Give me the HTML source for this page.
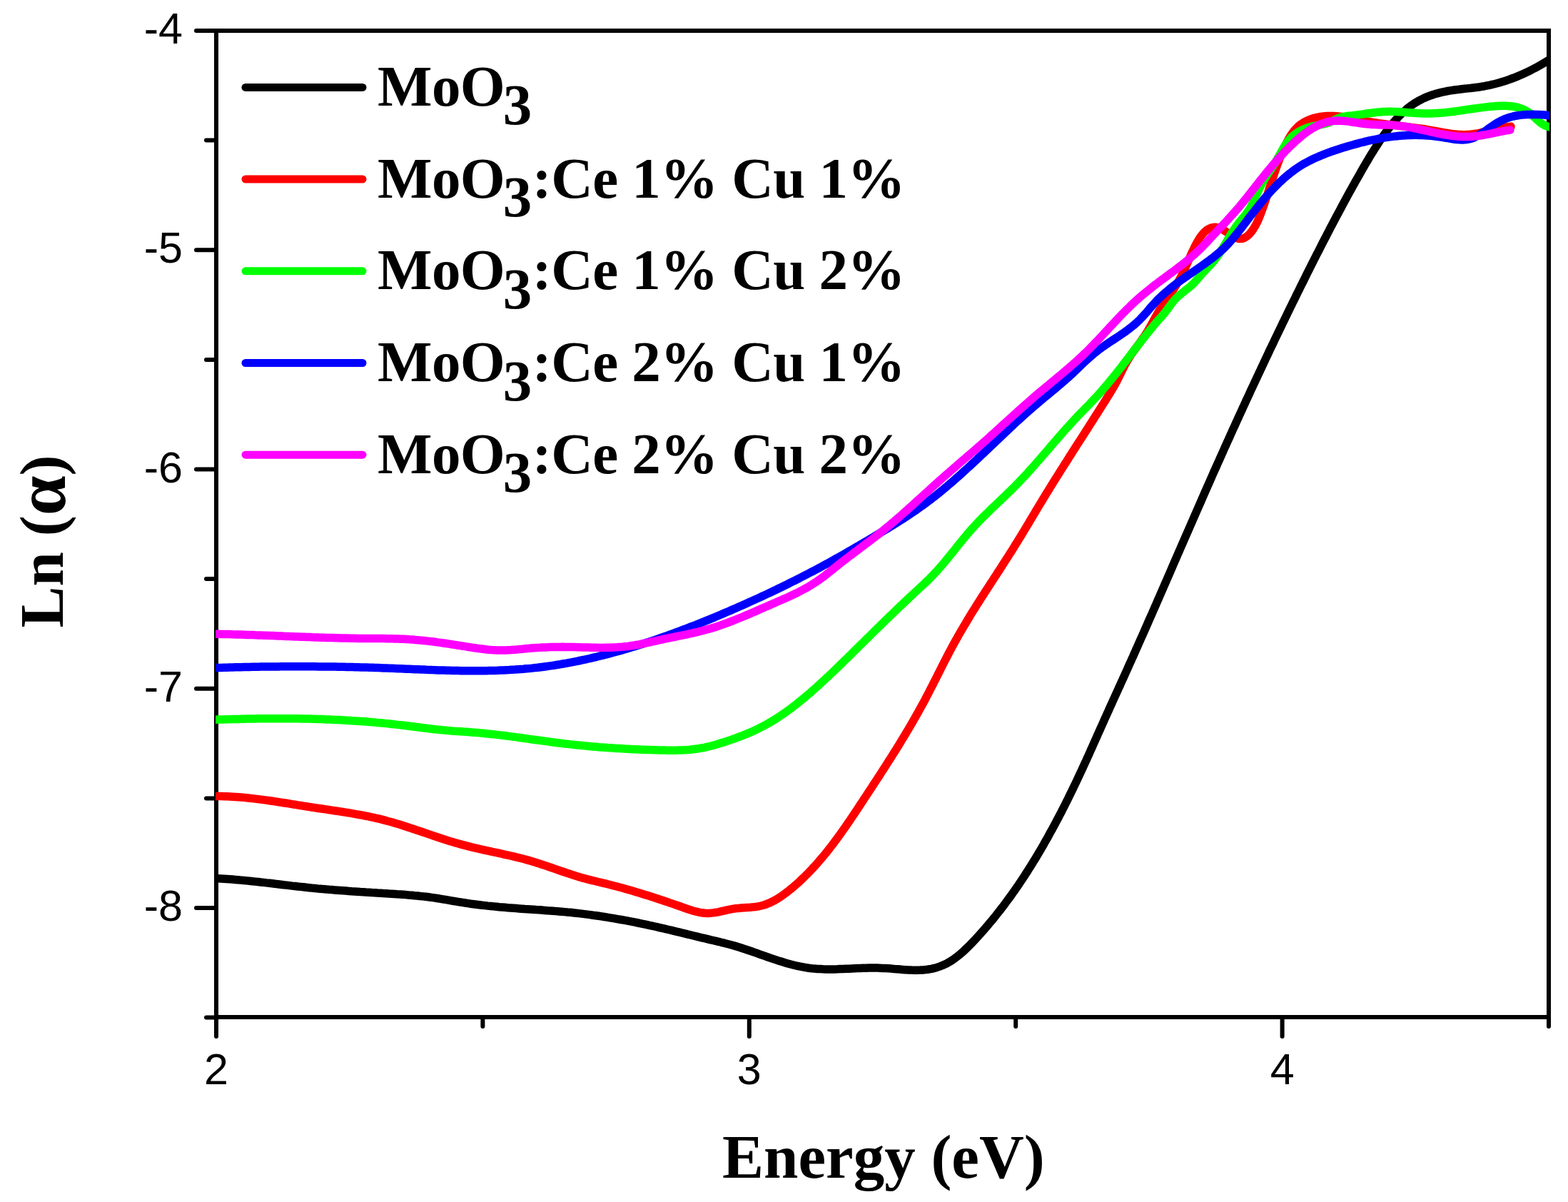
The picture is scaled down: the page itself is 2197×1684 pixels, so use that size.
<!DOCTYPE html>
<html><head><meta charset="utf-8"><title>Ln(alpha) vs Energy</title>
<style>html,body{margin:0;padding:0;background:#fff;overflow:hidden}svg{display:block}</style>
</head><body>
<svg width="2197" height="1684" viewBox="0 0 2197 1684">
<defs><clipPath id="pc"><rect x="302" y="40" width="1869" height="1390"/></clipPath></defs>
<rect width="2197" height="1684" fill="#fff"/>
<g stroke="#000" stroke-width="6" fill="none" stroke-linecap="square">
<rect x="303" y="43" width="1867.0" height="1382.0"/>
</g>
<path d="M275,43.0 H303 M275,350.2 H303 M275,657.5 H303 M275,964.8 H303 M275,1272.0 H303 M289,196.6 H303 M289,503.9 H303 M289,811.1 H303 M289,1118.4 H303 M289,1425.6 H303 M303.0,1425 V1452 M1049.8,1425 V1452 M1796.6,1425 V1452 M676.4,1425 V1438 M1423.2,1425 V1438 M2170.0,1425 V1438" stroke="#000" stroke-width="6" stroke-linecap="round" fill="none"/>
<g clip-path="url(#pc)" fill="none" stroke-width="11.5" stroke-linejoin="round" stroke-linecap="round">
<path d="M302.0,1230.6 L306.0,1230.8 L310.0,1231.0 L314.0,1231.2 L318.0,1231.5 L322.0,1231.8 L326.0,1232.1 L329.9,1232.4 L333.9,1232.7 L337.9,1233.1 L341.9,1233.5 L345.9,1233.9 L349.8,1234.3 L353.8,1234.7 L357.8,1235.1 L361.8,1235.5 L365.7,1236.0 L369.7,1236.4 L373.7,1236.9 L377.6,1237.3 L381.6,1237.8 L385.6,1238.3 L389.6,1238.7 L393.5,1239.2 L397.5,1239.7 L401.5,1240.1 L405.4,1240.6 L409.4,1241.1 L413.4,1241.5 L417.4,1242.0 L421.3,1242.4 L425.3,1242.8 L429.3,1243.3 L433.3,1243.7 L437.2,1244.1 L441.2,1244.5 L445.2,1244.9 L449.2,1245.2 L453.1,1245.6 L457.1,1245.9 L461.1,1246.3 L465.1,1246.6 L469.1,1246.9 L473.1,1247.2 L477.1,1247.5 L481.0,1247.8 L485.0,1248.1 L489.0,1248.4 L493.0,1248.7 L497.0,1248.9 L501.0,1249.2 L505.0,1249.5 L509.0,1249.7 L512.9,1250.0 L516.9,1250.2 L520.9,1250.5 L524.9,1250.7 L528.9,1251.0 L532.9,1251.2 L536.9,1251.5 L540.9,1251.7 L544.9,1252.0 L548.9,1252.2 L552.8,1252.5 L556.8,1252.8 L560.8,1253.0 L564.8,1253.3 L568.8,1253.6 L572.8,1254.0 L576.8,1254.3 L580.7,1254.7 L584.7,1255.0 L588.7,1255.5 L592.7,1255.9 L596.6,1256.3 L600.6,1256.8 L604.6,1257.4 L608.5,1257.9 L612.5,1258.5 L616.4,1259.1 L620.4,1259.8 L624.3,1260.4 L628.3,1261.1 L632.2,1261.8 L636.1,1262.5 L640.1,1263.1 L644.0,1263.8 L648.0,1264.4 L651.9,1265.0 L655.9,1265.6 L659.8,1266.2 L663.8,1266.7 L667.8,1267.2 L671.7,1267.7 L675.7,1268.2 L679.7,1268.6 L683.6,1269.1 L687.6,1269.5 L691.6,1269.9 L695.6,1270.3 L699.6,1270.7 L703.5,1271.0 L707.5,1271.3 L711.5,1271.7 L715.5,1272.0 L719.5,1272.3 L723.5,1272.6 L727.4,1272.9 L731.4,1273.2 L735.4,1273.5 L739.4,1273.7 L743.4,1274.0 L747.4,1274.3 L751.4,1274.6 L755.4,1274.8 L759.3,1275.1 L763.3,1275.4 L767.3,1275.7 L771.3,1275.9 L775.3,1276.2 L779.3,1276.6 L783.3,1276.9 L787.3,1277.2 L791.2,1277.6 L795.2,1278.0 L799.2,1278.3 L803.2,1278.8 L807.1,1279.2 L811.1,1279.6 L815.1,1280.1 L819.0,1280.6 L823.0,1281.1 L827.0,1281.6 L830.9,1282.2 L834.9,1282.7 L838.9,1283.3 L842.8,1283.9 L846.8,1284.5 L850.7,1285.1 L854.7,1285.8 L858.6,1286.4 L862.5,1287.1 L866.5,1287.8 L870.4,1288.5 L874.3,1289.2 L878.3,1289.9 L882.2,1290.7 L886.1,1291.4 L890.0,1292.2 L894.0,1293.0 L897.9,1293.8 L901.8,1294.6 L905.7,1295.4 L909.6,1296.3 L913.5,1297.1 L917.4,1298.0 L921.3,1298.9 L925.2,1299.8 L929.1,1300.7 L933.0,1301.6 L936.9,1302.5 L940.8,1303.4 L944.7,1304.4 L948.6,1305.3 L952.4,1306.2 L956.3,1307.2 L960.2,1308.1 L964.1,1309.1 L968.0,1310.0 L971.9,1311.0 L975.7,1311.9 L979.6,1312.9 L983.5,1313.8 L987.4,1314.7 L991.3,1315.6 L995.2,1316.6 L999.1,1317.5 L1003.0,1318.4 L1006.9,1319.3 L1010.7,1320.3 L1014.6,1321.2 L1018.5,1322.2 L1022.4,1323.2 L1026.2,1324.3 L1030.1,1325.4 L1033.9,1326.5 L1037.7,1327.7 L1041.5,1329.0 L1045.3,1330.2 L1049.1,1331.5 L1052.9,1332.8 L1056.6,1334.1 L1060.4,1335.4 L1064.2,1336.8 L1067.9,1338.1 L1071.7,1339.4 L1075.5,1340.8 L1079.3,1342.1 L1083.1,1343.4 L1086.8,1344.6 L1090.6,1345.9 L1094.5,1347.1 L1098.3,1348.3 L1102.1,1349.4 L1106.0,1350.5 L1109.8,1351.5 L1113.7,1352.5 L1117.6,1353.4 L1121.5,1354.2 L1125.4,1354.9 L1129.4,1355.6 L1133.3,1356.2 L1137.3,1356.7 L1141.3,1357.1 L1145.3,1357.4 L1149.2,1357.6 L1153.2,1357.8 L1157.2,1357.9 L1161.2,1357.9 L1165.2,1357.9 L1169.2,1357.9 L1173.2,1357.8 L1177.2,1357.6 L1181.2,1357.5 L1185.2,1357.3 L1189.2,1357.2 L1193.2,1357.0 L1197.2,1356.8 L1201.2,1356.6 L1205.2,1356.5 L1209.2,1356.3 L1213.2,1356.2 L1217.2,1356.1 L1221.2,1356.1 L1225.2,1356.1 L1229.2,1356.1 L1233.2,1356.2 L1237.1,1356.4 L1241.1,1356.6 L1245.1,1356.8 L1249.1,1357.1 L1253.1,1357.5 L1257.1,1357.8 L1261.1,1358.1 L1265.0,1358.4 L1269.0,1358.7 L1273.0,1358.9 L1277.0,1359.1 L1281.0,1359.2 L1285.0,1359.2 L1289.0,1359.1 L1293.0,1358.9 L1297.0,1358.6 L1300.9,1358.0 L1304.9,1357.3 L1308.8,1356.5 L1312.6,1355.4 L1316.4,1354.1 L1320.2,1352.7 L1323.8,1351.1 L1327.4,1349.3 L1330.9,1347.3 L1334.2,1345.2 L1337.5,1342.9 L1340.7,1340.5 L1343.9,1338.0 L1346.9,1335.4 L1349.9,1332.8 L1352.8,1330.0 L1355.7,1327.3 L1358.5,1324.4 L1361.3,1321.6 L1364.1,1318.7 L1366.8,1315.8 L1369.5,1312.8 L1372.2,1309.9 L1374.9,1306.9 L1377.5,1303.9 L1380.1,1300.9 L1382.8,1297.9 L1385.3,1294.8 L1387.9,1291.8 L1390.5,1288.7 L1393.0,1285.6 L1395.5,1282.5 L1398.0,1279.3 L1400.5,1276.2 L1402.9,1273.0 L1405.3,1269.9 L1407.8,1266.7 L1410.1,1263.5 L1412.5,1260.3 L1414.9,1257.0 L1417.2,1253.8 L1419.5,1250.5 L1421.8,1247.3 L1424.1,1244.0 L1426.4,1240.7 L1428.6,1237.4 L1430.8,1234.1 L1433.1,1230.7 L1435.3,1227.4 L1437.4,1224.0 L1439.6,1220.7 L1441.7,1217.3 L1443.9,1213.9 L1446.0,1210.5 L1448.1,1207.1 L1450.2,1203.7 L1452.2,1200.3 L1454.3,1196.9 L1456.3,1193.4 L1458.4,1190.0 L1460.4,1186.5 L1462.4,1183.1 L1464.3,1179.6 L1466.3,1176.1 L1468.3,1172.6 L1470.2,1169.1 L1472.1,1165.6 L1474.1,1162.1 L1476.0,1158.6 L1477.9,1155.1 L1479.7,1151.6 L1481.6,1148.0 L1483.5,1144.5 L1485.3,1140.9 L1487.2,1137.4 L1489.0,1133.8 L1490.8,1130.3 L1492.6,1126.7 L1494.4,1123.1 L1496.2,1119.6 L1497.9,1116.0 L1499.7,1112.4 L1501.5,1108.8 L1503.2,1105.2 L1504.9,1101.6 L1506.7,1098.0 L1508.4,1094.4 L1510.1,1090.8 L1511.8,1087.1 L1513.5,1083.5 L1515.2,1079.9 L1516.9,1076.3 L1518.5,1072.6 L1520.2,1069.0 L1521.9,1065.4 L1523.5,1061.7 L1525.2,1058.1 L1526.8,1054.5 L1528.4,1050.8 L1530.1,1047.2 L1531.7,1043.5 L1533.3,1039.9 L1535.0,1036.2 L1536.6,1032.6 L1538.2,1028.9 L1539.9,1025.3 L1541.5,1021.6 L1543.1,1018.0 L1544.8,1014.3 L1546.4,1010.7 L1548.0,1007.0 L1549.7,1003.4 L1551.3,999.7 L1553.0,996.1 L1554.6,992.4 L1556.2,988.8 L1557.9,985.2 L1559.5,981.5 L1561.2,977.9 L1562.9,974.2 L1564.5,970.6 L1566.2,967.0 L1567.8,963.3 L1569.5,959.7 L1571.1,956.0 L1572.8,952.4 L1574.4,948.8 L1576.1,945.1 L1577.7,941.5 L1579.4,937.8 L1581.0,934.2 L1582.6,930.5 L1584.3,926.9 L1585.9,923.2 L1587.6,919.6 L1589.2,915.9 L1590.8,912.3 L1592.4,908.6 L1594.1,905.0 L1595.7,901.3 L1597.3,897.7 L1598.9,894.0 L1600.6,890.4 L1602.2,886.7 L1603.8,883.1 L1605.4,879.4 L1607.0,875.8 L1608.6,872.1 L1610.2,868.4 L1611.8,864.8 L1613.5,861.1 L1615.1,857.5 L1616.7,853.8 L1618.3,850.1 L1619.9,846.5 L1621.5,842.8 L1623.1,839.1 L1624.7,835.5 L1626.3,831.8 L1627.9,828.2 L1629.5,824.5 L1631.1,820.8 L1632.7,817.2 L1634.3,813.5 L1635.9,809.8 L1637.5,806.2 L1639.1,802.5 L1640.7,798.8 L1642.2,795.2 L1643.8,791.5 L1645.4,787.8 L1647.0,784.2 L1648.6,780.5 L1650.2,776.8 L1651.8,773.2 L1653.4,769.5 L1655.0,765.8 L1656.6,762.2 L1658.2,758.5 L1659.8,754.8 L1661.4,751.2 L1663.0,747.5 L1664.6,743.9 L1666.2,740.2 L1667.8,736.5 L1669.4,732.9 L1671.0,729.2 L1672.6,725.5 L1674.2,721.9 L1675.8,718.2 L1677.4,714.5 L1679.0,710.9 L1680.6,707.2 L1682.2,703.6 L1683.8,699.9 L1685.4,696.2 L1687.0,692.6 L1688.6,688.9 L1690.2,685.3 L1691.8,681.6 L1693.5,678.0 L1695.1,674.3 L1696.7,670.6 L1698.3,667.0 L1699.9,663.3 L1701.5,659.7 L1703.2,656.0 L1704.8,652.4 L1706.4,648.7 L1708.1,645.1 L1709.7,641.4 L1711.3,637.8 L1713.0,634.1 L1714.6,630.5 L1716.2,626.8 L1717.9,623.2 L1719.5,619.5 L1721.2,615.9 L1722.8,612.3 L1724.4,608.6 L1726.1,605.0 L1727.7,601.3 L1729.4,597.7 L1731.1,594.0 L1732.7,590.4 L1734.4,586.8 L1736.0,583.1 L1737.7,579.5 L1739.4,575.9 L1741.0,572.2 L1742.7,568.6 L1744.4,565.0 L1746.0,561.3 L1747.7,557.7 L1749.4,554.1 L1751.1,550.5 L1752.7,546.8 L1754.4,543.2 L1756.1,539.6 L1757.8,536.0 L1759.5,532.3 L1761.2,528.7 L1762.9,525.1 L1764.6,521.5 L1766.3,517.8 L1768.0,514.2 L1769.7,510.6 L1771.4,507.0 L1773.1,503.4 L1774.8,499.8 L1776.5,496.2 L1778.2,492.5 L1779.9,488.9 L1781.7,485.3 L1783.4,481.7 L1785.1,478.1 L1786.8,474.5 L1788.6,470.9 L1790.3,467.3 L1792.0,463.7 L1793.8,460.1 L1795.5,456.5 L1797.2,452.9 L1799.0,449.3 L1800.7,445.7 L1802.5,442.1 L1804.2,438.5 L1806.0,434.9 L1807.7,431.3 L1809.5,427.7 L1811.2,424.1 L1813.0,420.6 L1814.8,417.0 L1816.5,413.4 L1818.3,409.8 L1820.1,406.2 L1821.8,402.6 L1823.6,399.0 L1825.4,395.5 L1827.2,391.9 L1829.0,388.3 L1830.7,384.7 L1832.5,381.2 L1834.3,377.6 L1836.1,374.0 L1837.9,370.4 L1839.7,366.9 L1841.5,363.3 L1843.3,359.7 L1845.1,356.2 L1847.0,352.6 L1848.8,349.1 L1850.6,345.5 L1852.4,341.9 L1854.2,338.4 L1856.1,334.8 L1857.9,331.3 L1859.7,327.7 L1861.6,324.2 L1863.4,320.6 L1865.3,317.1 L1867.1,313.6 L1869.0,310.0 L1870.9,306.5 L1872.7,302.9 L1874.6,299.4 L1876.5,295.9 L1878.4,292.4 L1880.3,288.8 L1882.2,285.3 L1884.1,281.8 L1886.0,278.3 L1887.9,274.8 L1889.8,271.3 L1891.7,267.8 L1893.7,264.3 L1895.6,260.8 L1897.6,257.3 L1899.5,253.8 L1901.5,250.3 L1903.5,246.9 L1905.4,243.4 L1907.4,239.9 L1909.4,236.4 L1911.4,233.0 L1913.4,229.5 L1915.5,226.1 L1917.5,222.6 L1919.5,219.2 L1921.6,215.8 L1923.7,212.4 L1925.8,209.0 L1928.0,205.6 L1930.1,202.3 L1932.3,198.9 L1934.5,195.6 L1936.8,192.3 L1939.1,189.0 L1941.4,185.8 L1943.8,182.5 L1946.2,179.4 L1948.7,176.2 L1951.2,173.1 L1953.8,170.0 L1956.4,167.1 L1959.1,164.1 L1961.9,161.2 L1964.7,158.4 L1967.7,155.7 L1970.7,153.1 L1973.8,150.6 L1977.0,148.2 L1980.2,145.9 L1983.6,143.7 L1987.0,141.7 L1990.6,139.8 L1994.1,138.0 L1997.8,136.4 L2001.5,134.9 L2005.3,133.5 L2009.1,132.2 L2012.9,131.1 L2016.7,130.1 L2020.6,129.1 L2024.5,128.3 L2028.5,127.5 L2032.4,126.9 L2036.4,126.3 L2040.3,125.7 L2044.3,125.3 L2048.3,124.8 L2052.2,124.3 L2056.2,123.9 L2060.2,123.5 L2064.2,123.0 L2068.1,122.5 L2072.1,122.0 L2076.0,121.3 L2080.0,120.7 L2083.9,119.9 L2087.8,119.1 L2091.7,118.2 L2095.6,117.2 L2099.4,116.2 L2103.3,115.1 L2107.1,113.9 L2110.9,112.7 L2114.7,111.4 L2118.4,110.0 L2122.2,108.6 L2125.9,107.1 L2129.6,105.5 L2133.2,103.9 L2136.9,102.3 L2140.5,100.6 L2144.1,98.8 L2147.6,97.0 L2151.2,95.2 L2154.7,93.3 L2158.2,91.3 L2161.7,89.3 L2165.1,87.3 L2168.5,85.2 L2171.9,83.1" stroke="#000000"/>
<path d="M302.0,1115.5 L306.0,1115.6 L310.0,1115.6 L314.0,1115.7 L317.9,1115.8 L321.9,1116.0 L325.9,1116.2 L329.9,1116.4 L333.9,1116.7 L337.9,1117.0 L341.9,1117.4 L345.8,1117.8 L349.8,1118.2 L353.8,1118.6 L357.7,1119.1 L361.7,1119.6 L365.7,1120.1 L369.6,1120.6 L373.6,1121.1 L377.5,1121.7 L381.5,1122.3 L385.4,1122.9 L389.4,1123.5 L393.3,1124.1 L397.3,1124.7 L401.2,1125.3 L405.2,1125.9 L409.1,1126.6 L413.1,1127.2 L417.0,1127.9 L421.0,1128.5 L424.9,1129.1 L428.8,1129.7 L432.8,1130.4 L436.7,1131.0 L440.7,1131.6 L444.6,1132.2 L448.6,1132.8 L452.5,1133.3 L456.5,1133.9 L460.4,1134.5 L464.4,1135.1 L468.3,1135.7 L472.3,1136.3 L476.2,1136.9 L480.2,1137.5 L484.1,1138.1 L488.1,1138.7 L492.0,1139.4 L496.0,1140.1 L499.9,1140.8 L503.8,1141.5 L507.8,1142.2 L511.7,1143.0 L515.6,1143.7 L519.5,1144.6 L523.4,1145.4 L527.3,1146.3 L531.2,1147.2 L535.1,1148.1 L538.9,1149.1 L542.8,1150.2 L546.7,1151.2 L550.5,1152.3 L554.3,1153.5 L558.1,1154.6 L562.0,1155.8 L565.8,1157.0 L569.6,1158.2 L573.4,1159.5 L577.2,1160.7 L581.0,1162.0 L584.7,1163.3 L588.5,1164.5 L592.3,1165.8 L596.1,1167.1 L599.9,1168.4 L603.6,1169.7 L607.4,1171.0 L611.2,1172.2 L615.0,1173.5 L618.8,1174.7 L622.6,1176.0 L626.4,1177.2 L630.2,1178.4 L634.0,1179.5 L637.9,1180.7 L641.7,1181.8 L645.6,1182.9 L649.4,1183.9 L653.3,1184.9 L657.1,1185.9 L661.0,1186.9 L664.9,1187.8 L668.8,1188.7 L672.7,1189.6 L676.6,1190.5 L680.5,1191.3 L684.4,1192.2 L688.3,1193.0 L692.2,1193.9 L696.1,1194.7 L700.0,1195.5 L703.9,1196.4 L707.8,1197.3 L711.7,1198.1 L715.6,1199.0 L719.5,1199.9 L723.4,1200.9 L727.3,1201.8 L731.1,1202.8 L735.0,1203.8 L738.9,1204.9 L742.7,1205.9 L746.5,1207.1 L750.4,1208.2 L754.2,1209.4 L758.0,1210.7 L761.8,1211.9 L765.5,1213.2 L769.3,1214.5 L773.1,1215.8 L776.9,1217.1 L780.6,1218.4 L784.4,1219.7 L788.2,1221.0 L792.0,1222.3 L795.8,1223.6 L799.6,1224.8 L803.4,1226.1 L807.2,1227.3 L811.0,1228.4 L814.8,1229.6 L818.7,1230.6 L822.5,1231.7 L826.4,1232.6 L830.3,1233.6 L834.2,1234.5 L838.0,1235.5 L841.9,1236.4 L845.8,1237.3 L849.7,1238.2 L853.6,1239.2 L857.4,1240.2 L861.3,1241.2 L865.2,1242.2 L869.0,1243.3 L872.9,1244.3 L876.7,1245.4 L880.6,1246.5 L884.4,1247.6 L888.2,1248.7 L892.1,1249.9 L895.9,1251.0 L899.7,1252.2 L903.5,1253.4 L907.3,1254.6 L911.2,1255.8 L915.0,1257.0 L918.8,1258.2 L922.6,1259.5 L926.3,1260.7 L930.1,1262.0 L933.9,1263.3 L937.7,1264.6 L941.5,1265.9 L945.2,1267.2 L949.0,1268.5 L952.8,1269.8 L956.6,1271.1 L960.3,1272.5 L964.1,1273.8 L967.9,1275.0 L971.7,1276.2 L975.6,1277.2 L979.5,1278.1 L983.4,1278.8 L987.4,1279.3 L991.3,1279.5 L995.3,1279.3 L999.3,1278.9 L1003.3,1278.3 L1007.2,1277.6 L1011.1,1276.7 L1015.0,1275.8 L1018.9,1274.9 L1022.8,1274.1 L1026.7,1273.4 L1030.7,1272.8 L1034.6,1272.4 L1038.6,1272.1 L1042.6,1271.8 L1046.6,1271.5 L1050.6,1271.3 L1054.6,1270.9 L1058.5,1270.5 L1062.5,1269.9 L1066.4,1269.0 L1070.2,1268.0 L1074.0,1266.7 L1077.7,1265.2 L1081.3,1263.5 L1084.9,1261.7 L1088.3,1259.7 L1091.7,1257.6 L1095.1,1255.4 L1098.3,1253.1 L1101.5,1250.7 L1104.7,1248.2 L1107.8,1245.7 L1110.9,1243.2 L1113.9,1240.6 L1116.9,1237.9 L1119.9,1235.3 L1122.8,1232.5 L1125.7,1229.8 L1128.5,1227.0 L1131.4,1224.2 L1134.2,1221.3 L1136.9,1218.4 L1139.6,1215.5 L1142.3,1212.6 L1145.0,1209.6 L1147.6,1206.6 L1150.2,1203.5 L1152.8,1200.5 L1155.4,1197.4 L1157.9,1194.3 L1160.4,1191.2 L1162.8,1188.0 L1165.3,1184.9 L1167.7,1181.7 L1170.1,1178.5 L1172.5,1175.3 L1174.8,1172.1 L1177.2,1168.8 L1179.5,1165.6 L1181.8,1162.3 L1184.1,1159.1 L1186.4,1155.8 L1188.6,1152.5 L1190.9,1149.2 L1193.1,1145.9 L1195.3,1142.6 L1197.6,1139.2 L1199.8,1135.9 L1202.0,1132.6 L1204.2,1129.3 L1206.4,1125.9 L1208.6,1122.6 L1210.8,1119.2 L1213.0,1115.9 L1215.2,1112.6 L1217.4,1109.2 L1219.6,1105.9 L1221.8,1102.6 L1223.9,1099.2 L1226.1,1095.9 L1228.3,1092.5 L1230.5,1089.2 L1232.7,1085.8 L1234.8,1082.5 L1237.0,1079.1 L1239.2,1075.8 L1241.3,1072.4 L1243.5,1069.0 L1245.6,1065.7 L1247.8,1062.3 L1249.9,1058.9 L1252.0,1055.5 L1254.2,1052.2 L1256.3,1048.8 L1258.4,1045.4 L1260.5,1042.0 L1262.6,1038.6 L1264.6,1035.2 L1266.7,1031.7 L1268.8,1028.3 L1270.8,1024.9 L1272.9,1021.5 L1274.9,1018.0 L1276.9,1014.6 L1278.9,1011.1 L1280.9,1007.7 L1282.9,1004.2 L1284.9,1000.7 L1286.8,997.2 L1288.7,993.7 L1290.7,990.2 L1292.6,986.7 L1294.5,983.2 L1296.4,979.7 L1298.2,976.2 L1300.1,972.6 L1301.9,969.1 L1303.7,965.5 L1305.6,962.0 L1307.4,958.4 L1309.2,954.8 L1311.0,951.3 L1312.8,947.7 L1314.6,944.1 L1316.4,940.6 L1318.2,937.0 L1320.0,933.4 L1321.8,929.9 L1323.6,926.3 L1325.4,922.8 L1327.3,919.2 L1329.1,915.7 L1331.0,912.1 L1332.9,908.6 L1334.8,905.1 L1336.7,901.6 L1338.6,898.1 L1340.6,894.6 L1342.5,891.1 L1344.5,887.7 L1346.5,884.2 L1348.5,880.8 L1350.5,877.3 L1352.6,873.9 L1354.6,870.5 L1356.7,867.0 L1358.8,863.6 L1360.8,860.2 L1362.9,856.8 L1365.1,853.4 L1367.2,850.0 L1369.3,846.6 L1371.4,843.3 L1373.6,839.9 L1375.7,836.5 L1377.9,833.2 L1380.0,829.8 L1382.2,826.5 L1384.4,823.1 L1386.5,819.8 L1388.7,816.4 L1390.9,813.1 L1393.1,809.7 L1395.3,806.4 L1397.4,803.0 L1399.6,799.7 L1401.8,796.3 L1404.0,793.0 L1406.1,789.6 L1408.3,786.2 L1410.4,782.9 L1412.6,779.5 L1414.7,776.1 L1416.9,772.8 L1419.0,769.4 L1421.1,766.0 L1423.2,762.6 L1425.3,759.2 L1427.4,755.8 L1429.5,752.4 L1431.6,749.0 L1433.6,745.6 L1435.7,742.1 L1437.8,738.7 L1439.8,735.3 L1441.9,731.9 L1443.9,728.4 L1446.0,725.0 L1448.0,721.6 L1450.1,718.2 L1452.1,714.7 L1454.2,711.3 L1456.2,707.9 L1458.3,704.5 L1460.4,701.0 L1462.4,697.6 L1464.5,694.2 L1466.6,690.8 L1468.7,687.4 L1470.8,684.0 L1472.9,680.6 L1475.0,677.2 L1477.1,673.8 L1479.2,670.4 L1481.4,667.1 L1483.5,663.7 L1485.6,660.3 L1487.7,656.9 L1489.9,653.5 L1492.0,650.2 L1494.2,646.8 L1496.3,643.4 L1498.4,640.0 L1500.6,636.7 L1502.7,633.3 L1504.9,629.9 L1507.0,626.6 L1509.2,623.2 L1511.3,619.9 L1513.5,616.5 L1515.7,613.1 L1517.8,609.8 L1520.0,606.4 L1522.1,603.0 L1524.3,599.7 L1526.4,596.3 L1528.6,592.9 L1530.7,589.6 L1532.9,586.2 L1535.0,582.8 L1537.2,579.5 L1539.3,576.1 L1541.5,572.7 L1543.6,569.3 L1545.7,566.0 L1547.9,562.6 L1550.0,559.2 L1552.1,555.8 L1554.2,552.4 L1556.3,549.0 L1558.3,545.6 L1560.4,542.1 L1562.3,538.7 L1564.2,535.2 L1566.1,531.6 L1567.9,528.0 L1569.6,524.5 L1571.4,520.9 L1573.2,517.3 L1575.0,513.7 L1576.8,510.2 L1578.8,506.7 L1580.8,503.3 L1582.9,499.9 L1585.1,496.6 L1587.4,493.3 L1589.8,490.0 L1592.1,486.8 L1594.5,483.6 L1596.9,480.4 L1599.2,477.2 L1601.5,473.9 L1603.8,470.6 L1606.0,467.3 L1608.1,463.9 L1610.1,460.4 L1612.1,457.0 L1614.0,453.5 L1615.9,450.0 L1617.8,446.4 L1619.8,443.0 L1621.7,439.5 L1623.8,436.1 L1625.9,432.7 L1628.1,429.3 L1630.3,426.0 L1632.5,422.7 L1634.8,419.4 L1637.0,416.1 L1639.3,412.8 L1641.5,409.5 L1643.8,406.2 L1645.9,402.8 L1648.1,399.4 L1650.2,396.0 L1652.2,392.6 L1654.1,389.1 L1655.9,385.5 L1657.7,381.9 L1659.3,378.3 L1661.0,374.7 L1662.6,371.0 L1664.2,367.4 L1665.8,363.7 L1667.4,360.0 L1669.0,356.4 L1670.7,352.7 L1672.4,349.1 L1674.1,345.5 L1676.0,342.0 L1677.9,338.5 L1679.9,335.1 L1682.1,331.7 L1684.6,328.6 L1687.2,325.6 L1690.2,322.9 L1693.5,320.7 L1697.2,319.1 L1701.1,318.3 L1705.0,318.5 L1708.9,319.6 L1712.5,321.3 L1715.9,323.3 L1719.3,325.5 L1722.6,327.8 L1725.9,329.9 L1729.4,332.0 L1733.0,333.6 L1736.9,334.6 L1740.8,334.3 L1744.5,332.9 L1747.8,330.6 L1750.7,327.8 L1753.3,324.8 L1755.6,321.6 L1757.8,318.2 L1759.8,314.7 L1761.6,311.2 L1763.2,307.5 L1764.7,303.8 L1766.2,300.1 L1767.6,296.4 L1769.0,292.6 L1770.3,288.9 L1771.7,285.1 L1772.9,281.3 L1774.2,277.5 L1775.5,273.7 L1776.7,269.9 L1777.9,266.1 L1779.2,262.3 L1780.4,258.5 L1781.6,254.7 L1782.9,250.9 L1784.1,247.2 L1785.4,243.4 L1786.7,239.6 L1788.0,235.8 L1789.3,232.0 L1790.7,228.3 L1792.1,224.6 L1793.5,220.8 L1795.0,217.1 L1796.6,213.4 L1798.2,209.8 L1799.8,206.1 L1801.5,202.5 L1803.3,198.9 L1805.2,195.4 L1807.2,192.0 L1809.3,188.6 L1811.6,185.3 L1814.1,182.2 L1816.8,179.3 L1819.7,176.5 L1822.8,174.0 L1826.2,171.8 L1829.6,169.9 L1833.3,168.2 L1837.0,166.8 L1840.8,165.6 L1844.7,164.6 L1848.6,163.8 L1852.5,163.2 L1856.5,162.8 L1860.5,162.5 L1864.5,162.5 L1868.5,162.5 L1872.5,162.7 L1876.5,163.1 L1880.4,163.5 L1884.4,164.1 L1888.3,164.7 L1892.3,165.5 L1896.2,166.2 L1900.1,167.0 L1904.0,167.8 L1907.9,168.6 L1911.8,169.3 L1915.8,170.1 L1919.7,170.7 L1923.7,171.4 L1927.6,172.0 L1931.5,172.6 L1935.5,173.1 L1939.5,173.7 L1943.4,174.2 L1947.4,174.7 L1951.4,175.2 L1955.3,175.6 L1959.3,176.1 L1963.3,176.6 L1967.2,177.1 L1971.2,177.6 L1975.1,178.1 L1979.1,178.6 L1983.1,179.1 L1987.0,179.6 L1991.0,180.2 L1994.9,180.8 L1998.9,181.4 L2002.8,182.1 L2006.7,182.8 L2010.7,183.5 L2014.6,184.2 L2018.5,184.9 L2022.5,185.6 L2026.4,186.3 L2030.4,186.9 L2034.3,187.5 L2038.3,187.9 L2042.3,188.3 L2046.2,188.5 L2050.2,188.7 L2054.2,188.6 L2058.2,188.4 L2062.2,188.1 L2066.2,187.5 L2070.1,186.9 L2074.0,186.1 L2077.9,185.2 L2081.8,184.3 L2085.7,183.3 L2089.5,182.4 L2093.4,181.4 L2097.3,180.5 L2101.2,179.6 L2105.1,178.9 L2109.1,178.2 L2113.0,177.7 L2117.0,177.3" stroke="#ff0000"/>
<path d="M302.0,1008.3 L306.0,1008.1 L310.0,1008.0 L314.0,1007.9 L318.0,1007.8 L322.0,1007.7 L326.0,1007.6 L330.0,1007.5 L334.0,1007.4 L338.0,1007.3 L342.0,1007.2 L346.0,1007.1 L349.9,1007.0 L353.9,1007.0 L357.9,1006.9 L361.9,1006.8 L365.9,1006.8 L369.9,1006.8 L373.9,1006.7 L377.9,1006.7 L381.9,1006.7 L385.9,1006.7 L389.9,1006.7 L393.9,1006.7 L397.9,1006.7 L401.9,1006.7 L405.9,1006.7 L409.9,1006.7 L413.9,1006.8 L417.9,1006.8 L421.9,1006.9 L425.9,1007.0 L429.9,1007.0 L433.9,1007.1 L437.9,1007.2 L441.9,1007.3 L445.8,1007.5 L449.8,1007.6 L453.8,1007.7 L457.8,1007.9 L461.8,1008.0 L465.8,1008.2 L469.8,1008.4 L473.8,1008.6 L477.8,1008.8 L481.8,1009.0 L485.8,1009.2 L489.8,1009.4 L493.7,1009.7 L497.7,1009.9 L501.7,1010.2 L505.7,1010.5 L509.7,1010.8 L513.7,1011.1 L517.7,1011.4 L521.6,1011.8 L525.6,1012.1 L529.6,1012.5 L533.6,1012.8 L537.6,1013.2 L541.5,1013.6 L545.5,1014.0 L549.5,1014.5 L553.5,1014.9 L557.4,1015.4 L561.4,1015.8 L565.4,1016.3 L569.3,1016.8 L573.3,1017.3 L577.3,1017.8 L581.2,1018.3 L585.2,1018.8 L589.2,1019.3 L593.1,1019.8 L597.1,1020.3 L601.1,1020.8 L605.0,1021.2 L609.0,1021.7 L613.0,1022.1 L616.9,1022.5 L620.9,1022.9 L624.9,1023.3 L628.9,1023.6 L632.9,1024.0 L636.8,1024.3 L640.8,1024.5 L644.8,1024.8 L648.8,1025.1 L652.8,1025.3 L656.8,1025.6 L660.8,1025.9 L664.8,1026.2 L668.7,1026.5 L672.7,1026.9 L676.7,1027.3 L680.7,1027.7 L684.6,1028.1 L688.6,1028.5 L692.6,1028.9 L696.6,1029.4 L700.5,1029.9 L704.5,1030.3 L708.5,1030.8 L712.4,1031.4 L716.4,1031.9 L720.3,1032.4 L724.3,1032.9 L728.3,1033.5 L732.2,1034.0 L736.2,1034.6 L740.1,1035.1 L744.1,1035.7 L748.1,1036.2 L752.0,1036.8 L756.0,1037.3 L759.9,1037.8 L763.9,1038.4 L767.9,1038.9 L771.8,1039.5 L775.8,1040.0 L779.7,1040.5 L783.7,1041.0 L787.7,1041.5 L791.6,1042.0 L795.6,1042.4 L799.6,1042.9 L803.6,1043.3 L807.5,1043.7 L811.5,1044.1 L815.5,1044.5 L819.5,1044.9 L823.4,1045.3 L827.4,1045.7 L831.4,1046.0 L835.4,1046.3 L839.4,1046.7 L843.3,1047.0 L847.3,1047.3 L851.3,1047.6 L855.3,1047.8 L859.3,1048.1 L863.3,1048.4 L867.3,1048.6 L871.3,1048.8 L875.2,1049.1 L879.2,1049.3 L883.2,1049.5 L887.2,1049.7 L891.2,1049.8 L895.2,1050.0 L899.2,1050.2 L903.2,1050.3 L907.2,1050.5 L911.2,1050.6 L915.2,1050.7 L919.2,1050.8 L923.2,1050.9 L927.2,1051.0 L931.2,1051.1 L935.1,1051.2 L939.1,1051.2 L943.1,1051.2 L947.1,1051.2 L951.1,1051.1 L955.1,1051.0 L959.1,1050.8 L963.1,1050.6 L967.1,1050.3 L971.1,1049.8 L975.0,1049.3 L979.0,1048.7 L982.9,1048.0 L986.8,1047.3 L990.7,1046.4 L994.6,1045.5 L998.5,1044.5 L1002.3,1043.4 L1006.2,1042.3 L1010.0,1041.1 L1013.8,1039.9 L1017.6,1038.7 L1021.4,1037.4 L1025.2,1036.1 L1029.0,1034.8 L1032.7,1033.4 L1036.5,1032.0 L1040.2,1030.6 L1043.9,1029.1 L1047.6,1027.6 L1051.3,1026.0 L1054.9,1024.4 L1058.6,1022.7 L1062.2,1021.0 L1065.7,1019.2 L1069.3,1017.4 L1072.8,1015.5 L1076.3,1013.5 L1079.7,1011.5 L1083.2,1009.5 L1086.6,1007.4 L1089.9,1005.2 L1093.3,1003.0 L1096.6,1000.8 L1099.9,998.5 L1103.1,996.2 L1106.4,993.8 L1109.6,991.5 L1112.7,989.0 L1115.9,986.6 L1119.0,984.1 L1122.1,981.6 L1125.2,979.1 L1128.3,976.5 L1131.3,973.9 L1134.4,971.3 L1137.4,968.7 L1140.4,966.0 L1143.4,963.4 L1146.3,960.7 L1149.3,958.0 L1152.2,955.3 L1155.1,952.6 L1158.1,949.8 L1161.0,947.1 L1163.9,944.4 L1166.8,941.6 L1169.7,938.8 L1172.5,936.1 L1175.4,933.3 L1178.3,930.5 L1181.2,927.7 L1184.0,924.9 L1186.9,922.2 L1189.7,919.4 L1192.6,916.6 L1195.4,913.7 L1198.3,910.9 L1201.1,908.1 L1203.9,905.3 L1206.8,902.5 L1209.6,899.7 L1212.5,896.9 L1215.3,894.1 L1218.2,891.3 L1221.0,888.5 L1223.8,885.7 L1226.7,882.9 L1229.5,880.1 L1232.4,877.3 L1235.3,874.5 L1238.1,871.7 L1241.0,868.9 L1243.9,866.1 L1246.7,863.3 L1249.6,860.6 L1252.5,857.8 L1255.4,855.0 L1258.3,852.3 L1261.2,849.5 L1264.1,846.8 L1267.0,844.0 L1269.9,841.3 L1272.8,838.5 L1275.7,835.8 L1278.6,833.1 L1281.5,830.4 L1284.5,827.6 L1287.4,824.9 L1290.3,822.2 L1293.3,819.5 L1296.2,816.8 L1299.1,814.0 L1301.9,811.2 L1304.7,808.4 L1307.5,805.5 L1310.3,802.6 L1313.0,799.6 L1315.6,796.7 L1318.3,793.7 L1320.9,790.6 L1323.4,787.6 L1326.0,784.5 L1328.5,781.4 L1331.1,778.3 L1333.6,775.2 L1336.1,772.1 L1338.6,769.0 L1341.1,765.8 L1343.6,762.7 L1346.1,759.6 L1348.6,756.5 L1351.1,753.4 L1353.7,750.4 L1356.3,747.3 L1358.9,744.3 L1361.5,741.3 L1364.2,738.3 L1366.9,735.4 L1369.6,732.5 L1372.4,729.6 L1375.2,726.7 L1378.0,723.9 L1380.8,721.1 L1383.7,718.3 L1386.5,715.5 L1389.4,712.7 L1392.3,709.9 L1395.2,707.2 L1398.1,704.4 L1401.0,701.7 L1403.9,698.9 L1406.8,696.2 L1409.7,693.4 L1412.5,690.6 L1415.4,687.8 L1418.3,685.0 L1421.1,682.2 L1423.9,679.4 L1426.7,676.5 L1429.5,673.6 L1432.2,670.7 L1434.9,667.8 L1437.7,664.9 L1440.3,661.9 L1443.0,659.0 L1445.7,656.0 L1448.4,653.0 L1451.0,650.0 L1453.6,647.0 L1456.3,644.0 L1458.9,641.0 L1461.5,637.9 L1464.1,634.9 L1466.7,631.9 L1469.3,628.9 L1471.9,625.8 L1474.5,622.8 L1477.1,619.8 L1479.8,616.8 L1482.4,613.7 L1485.0,610.7 L1487.6,607.7 L1490.3,604.7 L1492.9,601.7 L1495.6,598.8 L1498.3,595.8 L1501.0,592.8 L1503.7,589.9 L1506.4,587.0 L1509.2,584.1 L1511.9,581.2 L1514.7,578.3 L1517.5,575.5 L1520.3,572.6 L1523.1,569.8 L1525.9,566.9 L1528.6,564.0 L1531.4,561.1 L1534.1,558.2 L1536.8,555.3 L1539.5,552.3 L1542.2,549.3 L1544.8,546.3 L1547.4,543.3 L1550.0,540.2 L1552.6,537.2 L1555.1,534.1 L1557.7,531.0 L1560.2,527.9 L1562.7,524.8 L1565.2,521.7 L1567.7,518.5 L1570.1,515.4 L1572.6,512.2 L1575.0,509.1 L1577.5,505.9 L1579.9,502.7 L1582.3,499.6 L1584.8,496.4 L1587.2,493.2 L1589.6,490.1 L1592.1,486.9 L1594.5,483.7 L1597.0,480.6 L1599.4,477.4 L1601.9,474.3 L1604.3,471.1 L1606.8,468.0 L1609.3,464.9 L1611.8,461.8 L1614.4,458.7 L1616.9,455.6 L1619.5,452.6 L1622.1,449.5 L1624.8,446.6 L1627.5,443.6 L1630.1,440.6 L1632.6,437.4 L1635.0,434.3 L1637.4,431.0 L1639.7,427.8 L1642.1,424.6 L1644.6,421.5 L1647.3,418.5 L1650.1,415.7 L1653.1,413.1 L1656.2,410.5 L1659.4,408.1 L1662.5,405.6 L1665.7,403.1 L1668.7,400.5 L1671.6,397.8 L1674.3,394.9 L1677.0,391.9 L1679.6,388.9 L1682.2,385.8 L1684.8,382.8 L1687.6,379.9 L1690.3,377.0 L1693.1,374.2 L1695.8,371.2 L1698.5,368.3 L1701.1,365.2 L1703.5,362.1 L1705.9,358.8 L1708.2,355.5 L1710.3,352.2 L1712.5,348.8 L1714.5,345.4 L1716.6,342.0 L1718.6,338.5 L1720.6,335.1 L1722.7,331.6 L1724.7,328.2 L1726.9,324.8 L1729.1,321.5 L1731.3,318.2 L1733.7,315.0 L1736.1,311.8 L1738.7,308.7 L1741.2,305.7 L1743.8,302.6 L1746.3,299.4 L1748.6,296.2 L1750.8,292.9 L1752.8,289.4 L1754.6,285.8 L1756.3,282.3 L1758.0,278.6 L1759.6,275.0 L1761.3,271.3 L1762.9,267.7 L1764.6,264.1 L1766.4,260.5 L1768.3,257.0 L1770.3,253.5 L1772.3,250.1 L1774.4,246.7 L1776.6,243.3 L1778.8,240.0 L1781.0,236.6 L1783.1,233.3 L1785.3,229.9 L1787.4,226.5 L1789.4,223.1 L1791.4,219.6 L1793.4,216.1 L1795.3,212.6 L1797.3,209.2 L1799.3,205.7 L1801.5,202.3 L1803.8,199.1 L1806.2,195.9 L1808.9,193.0 L1811.8,190.2 L1814.9,187.7 L1818.2,185.5 L1821.7,183.4 L1825.3,181.7 L1828.9,180.1 L1832.7,178.7 L1836.5,177.6 L1840.4,176.7 L1844.3,175.9 L1848.3,175.2 L1852.2,174.4 L1856.1,173.5 L1859.9,172.4 L1863.6,171.0 L1867.3,169.3 L1870.9,167.6 L1874.6,166.0 L1878.3,164.6 L1882.1,163.5 L1886.1,162.8 L1890.0,162.3 L1894.0,161.9 L1898.0,161.4 L1902.0,161.0 L1905.9,160.4 L1909.9,159.9 L1913.8,159.3 L1917.8,158.8 L1921.8,158.3 L1925.7,157.8 L1929.7,157.3 L1933.7,156.9 L1937.7,156.6 L1941.6,156.4 L1945.6,156.3 L1949.6,156.3 L1953.6,156.4 L1957.6,156.5 L1961.6,156.8 L1965.6,157.1 L1969.6,157.4 L1973.6,157.7 L1977.5,158.0 L1981.5,158.3 L1985.5,158.6 L1989.5,158.8 L1993.5,159.0 L1997.5,159.1 L2001.5,159.1 L2005.5,159.0 L2009.5,158.8 L2013.5,158.6 L2017.5,158.3 L2021.4,158.0 L2025.4,157.6 L2029.4,157.1 L2033.4,156.7 L2037.3,156.2 L2041.3,155.6 L2045.2,155.1 L2049.2,154.5 L2053.1,153.9 L2057.1,153.3 L2061.1,152.8 L2065.0,152.2 L2069.0,151.6 L2072.9,151.1 L2076.9,150.6 L2080.9,150.1 L2084.8,149.6 L2088.8,149.2 L2092.8,148.9 L2096.8,148.6 L2100.8,148.4 L2104.7,148.2 L2108.7,148.2 L2112.7,148.4 L2116.7,148.7 L2120.7,149.2 L2124.6,150.0 L2128.5,151.1 L2132.2,152.4 L2135.9,154.0 L2139.4,155.9 L2142.7,158.1 L2145.8,160.6 L2148.8,163.3 L2151.8,166.0 L2154.7,168.7 L2157.7,171.3 L2160.9,173.7 L2164.4,175.7 L2168.1,177.2 L2172.0,177.8" stroke="#00ff00"/>
<path d="M302.0,935.6 L306.0,935.5 L310.0,935.4 L314.0,935.3 L317.9,935.2 L321.9,935.0 L325.9,934.9 L329.9,934.8 L333.9,934.7 L337.9,934.7 L341.9,934.6 L345.9,934.5 L349.9,934.4 L353.9,934.3 L357.9,934.3 L361.9,934.2 L365.9,934.1 L369.9,934.1 L373.9,934.0 L377.9,934.0 L381.9,933.9 L385.9,933.9 L389.9,933.9 L393.9,933.8 L397.9,933.8 L401.9,933.8 L405.9,933.8 L409.9,933.8 L413.9,933.7 L417.9,933.7 L421.9,933.7 L425.9,933.8 L429.8,933.8 L433.8,933.8 L437.8,933.8 L441.8,933.8 L445.8,933.9 L449.8,933.9 L453.8,933.9 L457.8,934.0 L461.8,934.0 L465.8,934.1 L469.8,934.1 L473.8,934.2 L477.8,934.3 L481.8,934.3 L485.8,934.4 L489.8,934.5 L493.8,934.6 L497.8,934.7 L501.8,934.8 L505.8,934.9 L509.8,935.0 L513.8,935.1 L517.8,935.2 L521.8,935.3 L525.8,935.5 L529.7,935.6 L533.7,935.7 L537.7,935.9 L541.7,936.0 L545.7,936.2 L549.7,936.3 L553.7,936.5 L557.7,936.7 L561.7,936.8 L565.7,937.0 L569.7,937.2 L573.7,937.3 L577.7,937.5 L581.7,937.7 L585.7,937.8 L589.7,938.0 L593.6,938.1 L597.6,938.3 L601.6,938.4 L605.6,938.6 L609.6,938.7 L613.6,938.9 L617.6,939.0 L621.6,939.1 L625.6,939.2 L629.6,939.3 L633.6,939.4 L637.6,939.5 L641.6,939.6 L645.6,939.7 L649.6,939.7 L653.6,939.8 L657.6,939.8 L661.6,939.8 L665.6,939.8 L669.6,939.8 L673.6,939.8 L677.6,939.7 L681.6,939.7 L685.5,939.6 L689.5,939.5 L693.5,939.4 L697.5,939.3 L701.5,939.1 L705.5,939.0 L709.5,938.8 L713.5,938.6 L717.5,938.3 L721.5,938.1 L725.5,937.8 L729.5,937.5 L733.4,937.2 L737.4,936.8 L741.4,936.5 L745.4,936.1 L749.4,935.6 L753.3,935.2 L757.3,934.7 L761.3,934.2 L765.2,933.7 L769.2,933.1 L773.1,932.6 L777.1,932.0 L781.0,931.3 L785.0,930.7 L788.9,930.0 L792.9,929.3 L796.8,928.6 L800.7,927.9 L804.6,927.1 L808.6,926.3 L812.5,925.5 L816.4,924.7 L820.3,923.9 L824.2,923.0 L828.1,922.1 L832.0,921.2 L835.9,920.3 L839.8,919.3 L843.6,918.4 L847.5,917.4 L851.4,916.4 L855.2,915.4 L859.1,914.3 L863.0,913.3 L866.8,912.2 L870.7,911.1 L874.5,910.0 L878.3,908.9 L882.2,907.8 L886.0,906.6 L889.8,905.4 L893.6,904.3 L897.4,903.1 L901.3,901.9 L905.1,900.6 L908.9,899.4 L912.7,898.1 L916.4,896.9 L920.2,895.6 L924.0,894.3 L927.8,893.0 L931.6,891.6 L935.3,890.3 L939.1,888.9 L942.8,887.6 L946.6,886.2 L950.3,884.8 L954.1,883.4 L957.8,882.0 L961.6,880.6 L965.3,879.2 L969.0,877.7 L972.7,876.3 L976.5,874.8 L980.2,873.3 L983.9,871.8 L987.6,870.3 L991.3,868.8 L995.0,867.3 L998.7,865.8 L1002.4,864.3 L1006.1,862.7 L1009.7,861.2 L1013.4,859.6 L1017.1,858.0 L1020.8,856.5 L1024.5,854.9 L1028.1,853.3 L1031.8,851.7 L1035.4,850.1 L1039.1,848.5 L1042.8,846.9 L1046.4,845.2 L1050.0,843.6 L1053.7,841.9 L1057.3,840.3 L1061.0,838.6 L1064.6,837.0 L1068.2,835.3 L1071.8,833.6 L1075.5,831.9 L1079.1,830.2 L1082.7,828.5 L1086.3,826.8 L1089.9,825.0 L1093.5,823.3 L1097.1,821.5 L1100.7,819.8 L1104.3,818.0 L1107.8,816.2 L1111.4,814.4 L1115.0,812.7 L1118.6,810.8 L1122.1,809.0 L1125.7,807.2 L1129.2,805.4 L1132.8,803.5 L1136.3,801.7 L1139.9,799.8 L1143.4,798.0 L1146.9,796.1 L1150.4,794.2 L1153.9,792.3 L1157.5,790.4 L1161.0,788.5 L1164.5,786.5 L1168.0,784.6 L1171.5,782.6 L1174.9,780.7 L1178.4,778.7 L1181.9,776.8 L1185.4,774.8 L1188.8,772.8 L1192.3,770.8 L1195.8,768.8 L1199.2,766.8 L1202.7,764.8 L1206.1,762.8 L1209.6,760.7 L1213.0,758.7 L1216.5,756.7 L1219.9,754.6 L1223.3,752.6 L1226.8,750.5 L1230.2,748.5 L1233.6,746.4 L1237.0,744.3 L1240.4,742.3 L1243.9,740.2 L1247.3,738.1 L1250.7,736.0 L1254.1,733.9 L1257.5,731.8 L1260.8,729.6 L1264.2,727.5 L1267.6,725.3 L1270.9,723.1 L1274.2,720.9 L1277.6,718.7 L1280.9,716.5 L1284.2,714.2 L1287.4,711.9 L1290.7,709.6 L1293.9,707.3 L1297.2,704.9 L1300.4,702.5 L1303.5,700.1 L1306.7,697.7 L1309.9,695.2 L1313.0,692.7 L1316.1,690.2 L1319.2,687.7 L1322.3,685.1 L1325.4,682.6 L1328.4,680.0 L1331.4,677.4 L1334.5,674.8 L1337.5,672.2 L1340.5,669.5 L1343.5,666.9 L1346.5,664.2 L1349.4,661.5 L1352.4,658.8 L1355.3,656.1 L1358.3,653.4 L1361.2,650.7 L1364.1,648.0 L1367.1,645.3 L1370.0,642.5 L1372.9,639.8 L1375.8,637.1 L1378.7,634.3 L1381.6,631.6 L1384.5,628.8 L1387.4,626.1 L1390.3,623.3 L1393.2,620.5 L1396.1,617.8 L1399.0,615.0 L1401.9,612.3 L1404.8,609.5 L1407.7,606.8 L1410.6,604.0 L1413.5,601.3 L1416.4,598.6 L1419.3,595.8 L1422.3,593.1 L1425.2,590.4 L1428.1,587.7 L1431.1,585.0 L1434.1,582.3 L1437.0,579.7 L1440.0,577.0 L1443.0,574.4 L1446.0,571.7 L1449.0,569.1 L1452.1,566.5 L1455.1,563.9 L1458.2,561.3 L1461.2,558.8 L1464.3,556.2 L1467.4,553.7 L1470.5,551.1 L1473.5,548.6 L1476.6,546.0 L1479.7,543.5 L1482.7,540.9 L1485.8,538.3 L1488.8,535.7 L1491.8,533.1 L1494.8,530.4 L1497.8,527.8 L1500.8,525.1 L1503.7,522.3 L1506.6,519.6 L1509.5,516.8 L1512.4,514.1 L1515.2,511.3 L1518.1,508.5 L1521.1,505.8 L1524.0,503.1 L1527.0,500.4 L1530.0,497.8 L1533.1,495.2 L1536.2,492.7 L1539.3,490.3 L1542.5,487.9 L1545.8,485.6 L1549.1,483.3 L1552.4,481.0 L1555.7,478.8 L1559.0,476.6 L1562.4,474.4 L1565.7,472.2 L1569.0,470.0 L1572.3,467.7 L1575.6,465.5 L1578.9,463.1 L1582.1,460.7 L1585.2,458.3 L1588.3,455.8 L1591.3,453.2 L1594.3,450.5 L1597.1,447.7 L1599.9,444.8 L1602.6,441.8 L1605.3,438.9 L1607.9,435.9 L1610.5,432.8 L1613.1,429.8 L1615.8,426.8 L1618.5,423.9 L1621.2,420.9 L1624.0,418.1 L1626.9,415.3 L1629.8,412.6 L1632.8,410.0 L1635.9,407.4 L1638.9,404.8 L1642.1,402.3 L1645.2,399.8 L1648.4,397.4 L1651.6,395.0 L1654.8,392.7 L1658.1,390.3 L1661.3,388.0 L1664.6,385.7 L1667.9,383.5 L1671.2,381.2 L1674.5,378.9 L1677.7,376.7 L1681.0,374.4 L1684.3,372.1 L1687.6,369.8 L1690.8,367.4 L1694.0,365.1 L1697.2,362.7 L1700.4,360.3 L1703.5,357.8 L1706.6,355.2 L1709.6,352.6 L1712.6,349.9 L1715.5,347.2 L1718.3,344.3 L1721.1,341.4 L1723.7,338.5 L1726.4,335.4 L1728.9,332.4 L1731.5,329.3 L1734.0,326.2 L1736.5,323.0 L1738.9,319.9 L1741.3,316.7 L1743.8,313.5 L1746.2,310.4 L1748.6,307.2 L1751.0,304.0 L1753.5,300.8 L1755.9,297.7 L1758.4,294.5 L1760.9,291.4 L1763.4,288.3 L1765.9,285.2 L1768.4,282.1 L1771.0,279.0 L1773.6,276.0 L1776.2,273.0 L1778.9,270.0 L1781.6,267.0 L1784.3,264.1 L1787.1,261.2 L1789.9,258.4 L1792.7,255.6 L1795.7,252.9 L1798.6,250.2 L1801.6,247.6 L1804.7,245.0 L1807.8,242.5 L1811.0,240.1 L1814.2,237.7 L1817.5,235.4 L1820.8,233.2 L1824.2,231.1 L1827.7,229.1 L1831.2,227.2 L1834.7,225.3 L1838.3,223.5 L1841.9,221.8 L1845.5,220.2 L1849.2,218.6 L1852.9,217.1 L1856.6,215.6 L1860.4,214.2 L1864.1,212.8 L1867.9,211.5 L1871.7,210.2 L1875.5,209.0 L1879.3,207.8 L1883.1,206.6 L1886.9,205.4 L1890.8,204.3 L1894.6,203.2 L1898.5,202.1 L1902.3,201.1 L1906.2,200.0 L1910.1,199.1 L1913.9,198.1 L1917.8,197.2 L1921.7,196.4 L1925.6,195.6 L1929.6,194.8 L1933.5,194.0 L1937.4,193.4 L1941.4,192.7 L1945.3,192.1 L1949.3,191.6 L1953.3,191.1 L1957.2,190.7 L1961.2,190.3 L1965.2,190.0 L1969.2,189.7 L1973.2,189.6 L1977.2,189.4 L1981.2,189.3 L1985.2,189.3 L1989.2,189.4 L1993.2,189.5 L1997.2,189.7 L2001.1,190.0 L2005.1,190.3 L2009.1,190.7 L2013.1,191.2 L2017.0,191.7 L2021.0,192.3 L2024.9,193.0 L2028.9,193.7 L2032.8,194.4 L2036.7,195.0 L2040.7,195.5 L2044.7,195.8 L2048.7,196.0 L2052.7,195.8 L2056.6,195.3 L2060.5,194.4 L2064.3,193.2 L2068.0,191.5 L2071.5,189.7 L2074.9,187.6 L2078.3,185.4 L2081.6,183.2 L2084.8,180.8 L2088.1,178.5 L2091.4,176.2 L2094.7,174.0 L2098.1,171.9 L2101.6,170.0 L2105.2,168.2 L2108.8,166.6 L2112.6,165.2 L2116.4,164.0 L2120.3,163.0 L2124.2,162.2 L2128.1,161.6 L2132.1,161.1 L2136.1,160.7 L2140.1,160.5 L2144.0,160.4 L2148.0,160.3 L2152.0,160.4 L2156.0,160.6 L2160.0,160.8 L2164.0,161.1 L2168.0,161.4 L2172.0,161.7" stroke="#0000ff"/>
<path d="M302.0,888.2 L306.0,888.3 L310.0,888.4 L314.0,888.5 L318.0,888.5 L322.0,888.6 L326.0,888.8 L330.0,888.9 L334.0,889.0 L338.0,889.1 L341.9,889.2 L345.9,889.4 L349.9,889.5 L353.9,889.6 L357.9,889.8 L361.9,889.9 L365.9,890.0 L369.9,890.2 L373.9,890.3 L377.9,890.5 L381.9,890.6 L385.9,890.8 L389.9,891.0 L393.9,891.1 L397.9,891.3 L401.8,891.4 L405.8,891.6 L409.8,891.7 L413.8,891.9 L417.8,892.0 L421.8,892.2 L425.8,892.3 L429.8,892.5 L433.8,892.6 L437.8,892.8 L441.8,892.9 L445.8,893.0 L449.8,893.2 L453.8,893.3 L457.8,893.4 L461.7,893.5 L465.7,893.6 L469.7,893.7 L473.7,893.8 L477.7,893.9 L481.7,894.0 L485.7,894.1 L489.7,894.2 L493.7,894.3 L497.7,894.3 L501.7,894.4 L505.7,894.4 L509.7,894.4 L513.7,894.5 L517.7,894.5 L521.7,894.5 L525.7,894.5 L529.7,894.6 L533.7,894.6 L537.7,894.6 L541.7,894.7 L545.6,894.7 L549.6,894.8 L553.6,894.9 L557.6,895.0 L561.6,895.2 L565.6,895.3 L569.6,895.5 L573.6,895.8 L577.6,896.0 L581.6,896.4 L585.6,896.7 L589.5,897.1 L593.5,897.5 L597.5,897.9 L601.4,898.4 L605.4,898.8 L609.4,899.3 L613.3,899.9 L617.3,900.4 L621.3,901.0 L625.2,901.5 L629.2,902.1 L633.1,902.7 L637.1,903.4 L641.0,904.0 L645.0,904.6 L648.9,905.2 L652.8,905.9 L656.8,906.5 L660.7,907.1 L664.7,907.7 L668.6,908.3 L672.6,908.8 L676.6,909.3 L680.5,909.8 L684.5,910.2 L688.5,910.5 L692.5,910.7 L696.5,910.9 L700.5,911.0 L704.5,910.9 L708.5,910.9 L712.5,910.7 L716.4,910.5 L720.4,910.2 L724.4,909.9 L728.4,909.5 L732.4,909.2 L736.4,908.8 L740.3,908.4 L744.3,908.1 L748.3,907.8 L752.3,907.5 L756.3,907.3 L760.3,907.0 L764.3,906.9 L768.2,906.7 L772.2,906.6 L776.2,906.5 L780.2,906.4 L784.2,906.4 L788.2,906.3 L792.2,906.4 L796.2,906.4 L800.2,906.5 L804.2,906.6 L808.2,906.7 L812.2,906.8 L816.2,906.9 L820.2,907.0 L824.2,907.1 L828.2,907.2 L832.2,907.3 L836.2,907.3 L840.2,907.4 L844.2,907.4 L848.2,907.3 L852.1,907.3 L856.1,907.2 L860.1,907.0 L864.1,906.8 L868.1,906.5 L872.1,906.2 L876.1,905.8 L880.0,905.4 L884.0,904.8 L887.9,904.2 L891.9,903.5 L895.8,902.8 L899.7,902.0 L903.7,901.2 L907.6,900.4 L911.5,899.5 L915.4,898.7 L919.3,897.8 L923.2,896.9 L927.1,896.1 L931.0,895.2 L934.9,894.4 L938.8,893.6 L942.7,892.8 L946.6,892.0 L950.5,891.2 L954.4,890.4 L958.4,889.6 L962.3,888.8 L966.2,887.9 L970.1,887.1 L974.0,886.2 L977.9,885.3 L981.8,884.3 L985.6,883.3 L989.5,882.3 L993.3,881.2 L997.2,880.1 L1001.0,878.9 L1004.8,877.7 L1008.6,876.4 L1012.3,875.1 L1016.1,873.7 L1019.9,872.4 L1023.6,870.9 L1027.3,869.5 L1031.0,868.0 L1034.7,866.5 L1038.4,865.0 L1042.1,863.5 L1045.8,861.9 L1049.5,860.4 L1053.2,858.8 L1056.8,857.2 L1060.5,855.6 L1064.1,854.0 L1067.8,852.4 L1071.5,850.8 L1075.1,849.2 L1078.8,847.6 L1082.5,846.0 L1086.1,844.4 L1089.8,842.8 L1093.5,841.2 L1097.1,839.6 L1100.8,838.0 L1104.4,836.4 L1108.0,834.7 L1111.7,833.0 L1115.3,831.3 L1118.8,829.5 L1122.4,827.7 L1125.9,825.8 L1129.4,823.9 L1132.9,821.9 L1136.3,819.8 L1139.7,817.7 L1143.1,815.6 L1146.4,813.3 L1149.7,811.0 L1152.9,808.7 L1156.1,806.3 L1159.2,803.8 L1162.4,801.3 L1165.5,798.8 L1168.6,796.3 L1171.7,793.8 L1174.8,791.3 L1177.9,788.8 L1181.1,786.3 L1184.2,783.9 L1187.4,781.5 L1190.6,779.0 L1193.8,776.6 L1197.0,774.2 L1200.2,771.8 L1203.4,769.4 L1206.6,767.0 L1209.7,764.6 L1212.9,762.2 L1216.1,759.8 L1219.3,757.4 L1222.5,755.0 L1225.7,752.6 L1228.8,750.1 L1232.0,747.6 L1235.1,745.2 L1238.2,742.6 L1241.3,740.1 L1244.4,737.6 L1247.4,735.0 L1250.5,732.4 L1253.5,729.8 L1256.6,727.2 L1259.6,724.6 L1262.6,722.0 L1265.6,719.3 L1268.6,716.7 L1271.6,714.0 L1274.5,711.4 L1277.5,708.7 L1280.5,706.0 L1283.4,703.3 L1286.4,700.6 L1289.3,698.0 L1292.3,695.3 L1295.3,692.6 L1298.2,689.9 L1301.2,687.2 L1304.1,684.5 L1307.1,681.8 L1310.1,679.2 L1313.0,676.5 L1316.0,673.8 L1319.0,671.2 L1322.0,668.5 L1325.0,665.9 L1328.0,663.2 L1331.0,660.6 L1334.0,658.0 L1337.0,655.4 L1340.1,652.8 L1343.1,650.1 L1346.1,647.5 L1349.1,644.9 L1352.2,642.3 L1355.2,639.7 L1358.2,637.1 L1361.2,634.5 L1364.3,631.9 L1367.3,629.3 L1370.3,626.6 L1373.3,624.0 L1376.3,621.4 L1379.3,618.7 L1382.3,616.1 L1385.3,613.4 L1388.2,610.7 L1391.2,608.1 L1394.2,605.4 L1397.1,602.7 L1400.1,600.0 L1403.0,597.3 L1406.0,594.6 L1409.0,591.9 L1411.9,589.3 L1414.9,586.6 L1417.8,583.9 L1420.8,581.2 L1423.8,578.5 L1426.7,575.8 L1429.7,573.2 L1432.7,570.5 L1435.7,567.9 L1438.7,565.2 L1441.7,562.6 L1444.7,559.9 L1447.7,557.3 L1450.7,554.7 L1453.7,552.1 L1456.8,549.5 L1459.9,547.0 L1462.9,544.4 L1466.0,541.9 L1469.1,539.3 L1472.2,536.8 L1475.2,534.2 L1478.3,531.7 L1481.4,529.1 L1484.5,526.6 L1487.5,524.0 L1490.6,521.4 L1493.6,518.8 L1496.7,516.3 L1499.7,513.6 L1502.7,511.0 L1505.7,508.4 L1508.7,505.7 L1511.6,503.0 L1514.6,500.3 L1517.5,497.5 L1520.4,494.8 L1523.2,492.0 L1526.0,489.2 L1528.8,486.3 L1531.6,483.5 L1534.4,480.6 L1537.2,477.7 L1539.9,474.8 L1542.6,471.9 L1545.4,468.9 L1548.1,466.0 L1550.8,463.1 L1553.5,460.1 L1556.2,457.2 L1559.0,454.3 L1561.7,451.4 L1564.4,448.5 L1567.2,445.6 L1569.9,442.7 L1572.7,439.8 L1575.5,436.9 L1578.3,434.1 L1581.2,431.3 L1584.0,428.5 L1586.9,425.8 L1589.8,423.0 L1592.8,420.3 L1595.8,417.7 L1598.8,415.0 L1601.8,412.4 L1604.9,409.9 L1608.0,407.4 L1611.1,404.9 L1614.2,402.4 L1617.4,399.9 L1620.6,397.5 L1623.8,395.1 L1627.0,392.7 L1630.2,390.3 L1633.4,388.0 L1636.6,385.6 L1639.8,383.2 L1643.0,380.9 L1646.2,378.5 L1649.4,376.1 L1652.6,373.6 L1655.7,371.2 L1658.9,368.7 L1662.0,366.2 L1665.1,363.6 L1668.1,361.1 L1671.1,358.4 L1674.1,355.8 L1677.1,353.1 L1680.0,350.3 L1682.8,347.6 L1685.7,344.7 L1688.4,341.8 L1691.2,338.9 L1693.9,336.0 L1696.6,333.1 L1699.3,330.1 L1702.1,327.2 L1704.8,324.3 L1707.5,321.4 L1710.3,318.5 L1713.0,315.6 L1715.8,312.7 L1718.5,309.8 L1721.2,306.8 L1723.9,303.9 L1726.6,300.9 L1729.2,297.9 L1731.9,294.9 L1734.5,291.9 L1737.1,288.9 L1739.6,285.8 L1742.2,282.7 L1744.7,279.6 L1747.2,276.5 L1749.7,273.4 L1752.2,270.2 L1754.6,267.1 L1757.1,264.0 L1759.6,260.8 L1762.0,257.7 L1764.5,254.5 L1767.0,251.4 L1769.5,248.3 L1772.0,245.2 L1774.5,242.0 L1777.0,239.0 L1779.6,235.9 L1782.1,232.8 L1784.7,229.8 L1787.4,226.8 L1790.0,223.8 L1792.7,220.8 L1795.4,217.8 L1798.1,214.9 L1800.8,212.0 L1803.6,209.2 L1806.5,206.3 L1809.3,203.5 L1812.2,200.8 L1815.1,198.0 L1818.1,195.4 L1821.1,192.8 L1824.2,190.2 L1827.3,187.8 L1830.5,185.4 L1833.8,183.1 L1837.2,180.9 L1840.6,178.9 L1844.1,177.0 L1847.7,175.2 L1851.4,173.6 L1855.1,172.3 L1859.0,171.1 L1862.9,170.2 L1866.8,169.6 L1870.8,169.2 L1874.8,169.1 L1878.8,169.2 L1882.8,169.5 L1886.7,169.9 L1890.7,170.4 L1894.7,171.0 L1898.6,171.5 L1902.6,172.1 L1906.5,172.7 L1910.5,173.2 L1914.4,173.7 L1918.4,174.1 L1922.4,174.4 L1926.4,174.6 L1930.4,174.8 L1934.4,174.9 L1938.4,174.9 L1942.4,175.0 L1946.4,175.1 L1950.4,175.3 L1954.3,175.6 L1958.3,175.9 L1962.3,176.4 L1966.3,176.9 L1970.2,177.5 L1974.1,178.1 L1978.1,178.9 L1982.0,179.6 L1985.9,180.4 L1989.8,181.3 L1993.7,182.1 L1997.6,183.0 L2001.5,183.9 L2005.4,184.8 L2009.3,185.6 L2013.2,186.5 L2017.1,187.3 L2021.1,188.0 L2025.0,188.8 L2028.9,189.4 L2032.9,190.0 L2036.9,190.5 L2040.8,190.9 L2044.8,191.3 L2048.8,191.5 L2052.8,191.6 L2056.8,191.5 L2060.8,191.4 L2064.8,191.1 L2068.7,190.6 L2072.7,190.1 L2076.6,189.5 L2080.6,188.8 L2084.5,188.1 L2088.4,187.3 L2092.4,186.5 L2096.3,185.7 L2100.2,184.9 L2104.1,184.2 L2108.0,183.4 L2112.0,182.7 L2115.9,182.1" stroke="#ff00ff"/>
</g>
<g font-family="Liberation Sans, Arial, sans-serif" font-size="61" fill="#000">
<text x="256.0" y="61.0" text-anchor="end">-4</text>
<text x="256.0" y="368.2" text-anchor="end">-5</text>
<text x="256.0" y="675.5" text-anchor="end">-6</text>
<text x="256.0" y="982.8" text-anchor="end">-7</text>
<text x="256.0" y="1290.0" text-anchor="end">-8</text>
<text x="303.0" y="1519.0" text-anchor="middle">2</text>
<text x="1049.8" y="1519.0" text-anchor="middle">3</text>
<text x="1796.6" y="1519.0" text-anchor="middle">4</text>
</g>
<g font-family="Liberation Serif, Times New Roman, serif" font-weight="bold" font-size="81" letter-spacing="-0.55" fill="#000">
<line x1="344" y1="122.4" x2="508" y2="122.4" stroke="#000000" stroke-width="11" stroke-linecap="round"/>
<text x="529" y="147.9">MoO<tspan dx="-2.5" dy="26.5">3</tspan><tspan dx="1" dy="-26.5"></tspan></text>
<line x1="344" y1="251.1" x2="508" y2="251.1" stroke="#ff0000" stroke-width="11" stroke-linecap="round"/>
<text x="529" y="276.6">MoO<tspan dx="-2.5" dy="26.5">3</tspan><tspan dx="1" dy="-26.5">:Ce 1% Cu 1%</tspan></text>
<line x1="344" y1="379.8" x2="508" y2="379.8" stroke="#00ff00" stroke-width="11" stroke-linecap="round"/>
<text x="529" y="405.3">MoO<tspan dx="-2.5" dy="26.5">3</tspan><tspan dx="1" dy="-26.5">:Ce 1% Cu 2%</tspan></text>
<line x1="344" y1="508.5" x2="508" y2="508.5" stroke="#0000ff" stroke-width="11" stroke-linecap="round"/>
<text x="529" y="534.0">MoO<tspan dx="-2.5" dy="26.5">3</tspan><tspan dx="1" dy="-26.5">:Ce 2% Cu 1%</tspan></text>
<line x1="344" y1="637.2" x2="508" y2="637.2" stroke="#ff00ff" stroke-width="11" stroke-linecap="round"/>
<text x="529" y="662.7">MoO<tspan dx="-2.5" dy="26.5">3</tspan><tspan dx="1" dy="-26.5">:Ce 2% Cu 2%</tspan></text>
</g>
<text x="1012" y="1649.5" font-family="Liberation Serif, Times New Roman, serif" font-weight="bold" font-size="87" fill="#000">Energy (eV)</text>
<text transform="translate(88,879.5) rotate(-90)" font-family="Liberation Serif, Times New Roman, serif" font-weight="bold" font-size="87" fill="#000">Ln (<tspan font-size="100" dy="3">α</tspan><tspan dy="-3">)</tspan></text>
</svg>
</body></html>
